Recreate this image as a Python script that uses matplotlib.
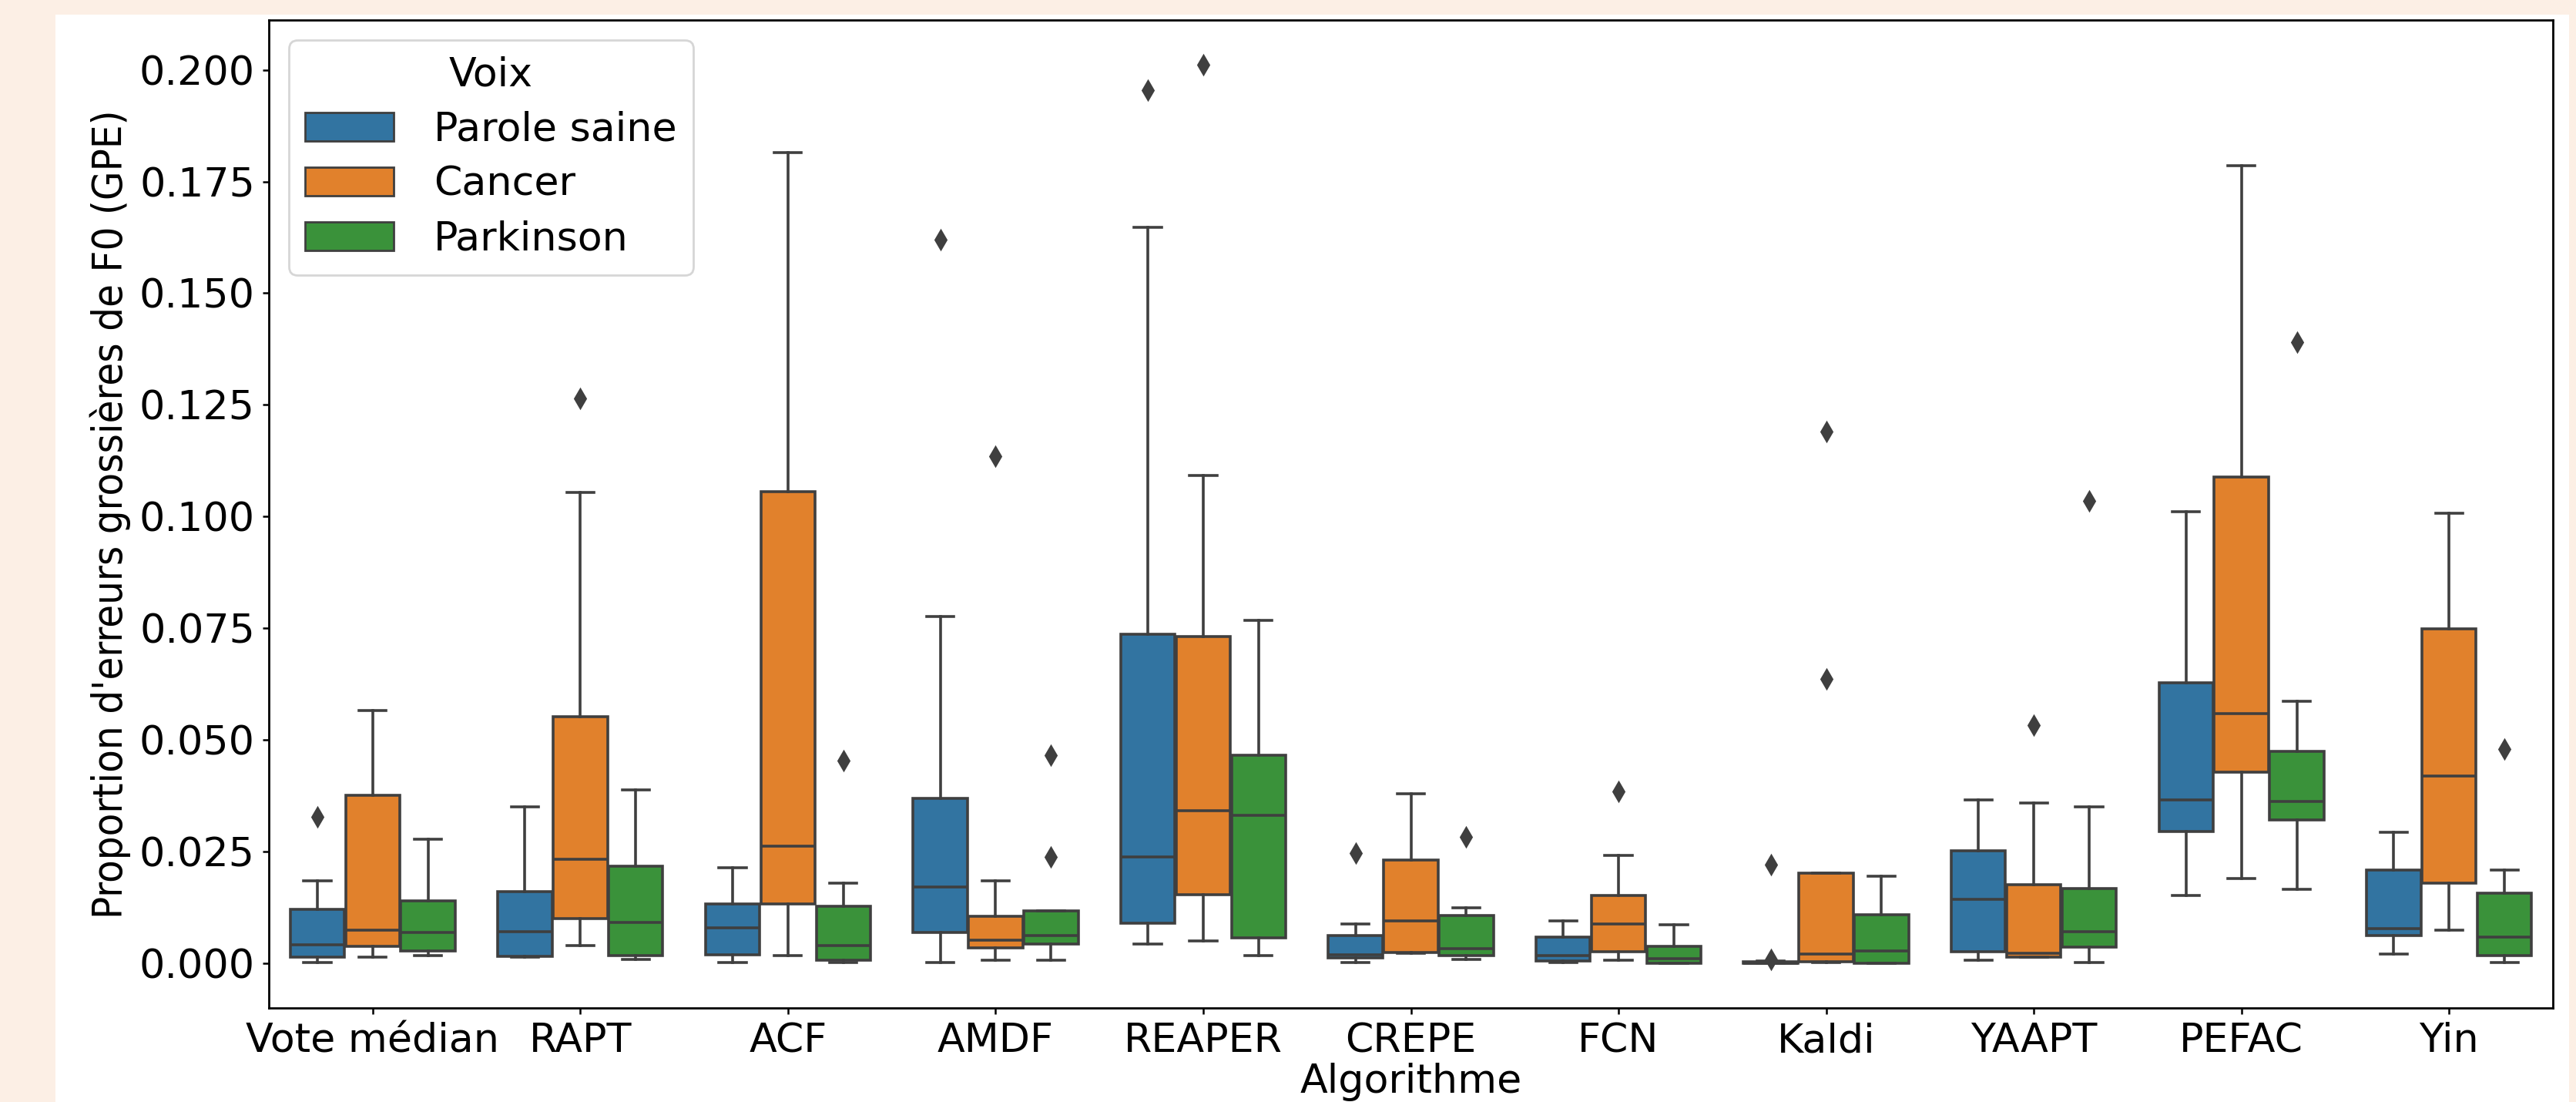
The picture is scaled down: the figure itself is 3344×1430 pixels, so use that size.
import matplotlib
matplotlib.use("Agg")
import matplotlib.pyplot as plt
from matplotlib.patches import Rectangle, Patch
from matplotlib import font_manager
from matplotlib.font_manager import FontProperties

# ---------------- data ----------------
algorithms = ["Vote médian", "RAPT", "ACF", "AMDF", "REAPER", "CREPE",
              "FCN", "Kaldi", "YAAPT", "PEFAC", "Yin"]
groups = ["Parole saine", "Cancer", "Parkinson"]

# Parole saine
saine_lo  = [0.0002, 0.0013, 0.0002, 0.0001, 0.0043, 0.0001, 0.0001, 0.0000, 0.0007, 0.0151, 0.0021]
saine_q1  = [0.0014, 0.0015, 0.0019, 0.0069, 0.0089, 0.0012, 0.0005, 0.0000, 0.0025, 0.0295, 0.0061]
saine_med = [0.0041, 0.0070, 0.0079, 0.0171, 0.0238, 0.0019, 0.0016, 0.0000, 0.0142, 0.0366, 0.0078]
saine_q3  = [0.0121, 0.0160, 0.0133, 0.0369, 0.0737, 0.0061, 0.0059, 0.0003, 0.0251, 0.0627, 0.0208]
saine_hi  = [0.0184, 0.0349, 0.0214, 0.0776, 0.1647, 0.0087, 0.0094, 0.0004, 0.0366, 0.1010, 0.0293]
saine_out = [[0.0327], [], [], [0.1619], [0.1954], [0.0246], [], [0.0220, 0.0009], [], [], []]

# Cancer
cancer_lo  = [0.0014, 0.0040, 0.0017, 0.0007, 0.0050, 0.0022, 0.0007, 0.0001, 0.0013, 0.0190, 0.0073]
cancer_q1  = [0.0037, 0.0099, 0.0133, 0.0034, 0.0153, 0.0023, 0.0025, 0.0003, 0.0014, 0.0427, 0.0179]
cancer_med = [0.0073, 0.0233, 0.0262, 0.0051, 0.0341, 0.0094, 0.0088, 0.0021, 0.0022, 0.0559, 0.0419]
cancer_q3  = [0.0376, 0.0551, 0.1056, 0.0105, 0.0731, 0.0230, 0.0151, 0.0202, 0.0175, 0.1089, 0.0748]
cancer_hi  = [0.0566, 0.1053, 0.1814, 0.0185, 0.1091, 0.0380, 0.0241, 0.0202, 0.0358, 0.1786, 0.1007]
cancer_out = [[], [0.1265], [], [0.1135], [0.2011], [], [0.0384], [0.1190, 0.0636], [0.0532], [], []]

# Parkinson
park_lo  = [0.0016, 0.0008, 0.0001, 0.0007, 0.0017, 0.0009, 0.0000, 0.0000, 0.0001, 0.0166, 0.0001]
park_q1  = [0.0027, 0.0016, 0.0007, 0.0043, 0.0056, 0.0016, 0.0000, 0.0000, 0.0036, 0.0320, 0.0016]
park_med = [0.0068, 0.0091, 0.0039, 0.0061, 0.0331, 0.0032, 0.0010, 0.0028, 0.0070, 0.0362, 0.0058]
park_q3  = [0.0140, 0.0217, 0.0127, 0.0117, 0.0466, 0.0106, 0.0037, 0.0109, 0.0167, 0.0474, 0.0156]
park_hi  = [0.0278, 0.0388, 0.0179, 0.0117, 0.0767, 0.0124, 0.0085, 0.0194, 0.0349, 0.0586, 0.0208]
park_out = [[], [], [0.0454], [0.0465, 0.0237], [], [0.0282], [], [], [0.1034], [0.1391], [0.0479]]

series = [
    (saine_lo, saine_q1, saine_med, saine_q3, saine_hi, saine_out),
    (cancer_lo, cancer_q1, cancer_med, cancer_q3, cancer_hi, cancer_out),
    (park_lo, park_q1, park_med, park_q3, park_hi, park_out),
]

colors = ["#3274a1", "#e1812c", "#3a923a"]
gray = "#3f3f3f"
peach = "#fcefe5"

# ---------------- figure ----------------
FS = 18.8
plt.rcParams["font.family"] = ["DejaVu Sans"]
plt.rcParams["font.size"] = FS

fig = plt.figure(figsize=(16.72, 7.15), dpi=200, facecolor=peach)
fig.patches.append(Rectangle((0.02153, 0.0), 0.99731 - 0.02153, 0.98671,
                             transform=fig.transFigure, facecolor="white",
                             edgecolor="none", zorder=-10))
ax = fig.add_axes([0.10437, 0.08531, 0.99103 - 0.10437, 0.98182 - 0.08531])
ax.set_facecolor("white")

group_w = 0.8
each_w = group_w / len(groups)
lw = 1.3

for j, (lo, q1, med, q3, hi, out) in enumerate(series):
    stats = []
    for i in range(len(algorithms)):
        stats.append(dict(whislo=lo[i], q1=q1[i], med=med[i], q3=q3[i],
                          whishi=hi[i], fliers=out[i]))
    positions = [i + (j - 1) * each_w for i in range(len(algorithms))]
    ax.bxp(stats, positions=positions, widths=each_w * 0.98, patch_artist=True,
           manage_ticks=False,
           boxprops=dict(facecolor=colors[j], edgecolor=gray, linewidth=lw),
           medianprops=dict(color=gray, linewidth=lw),
           whiskerprops=dict(color=gray, linewidth=lw),
           capprops=dict(color=gray, linewidth=lw),
           flierprops=dict(marker="d", markerfacecolor=gray, markeredgecolor=gray,
                           markersize=6, markeredgewidth=1.0, linestyle="none"))

ax.set_xlim(-0.5, len(algorithms) - 0.5)
ax.set_xticks(range(len(algorithms)))
ax.set_xticklabels(algorithms)
ax.tick_params(axis="both", labelsize=FS, length=3, width=0.9, color="black")
for s in ax.spines.values():
    s.set_linewidth(1.0)
    s.set_color("black")

ax.set_xlabel("Algorithme", fontsize=FS, labelpad=1)

# y label: condensed DejaVu if available
cond_path = font_manager.findfont(FontProperties(family="DejaVu Sans", stretch="condensed"))
if "Condensed" in cond_path:
    ax.set_ylabel("Proportion d'erreurs grossières de F0 (GPE)",
                  fontproperties=FontProperties(fname=cond_path, size=19.5))
else:
    ax.set_ylabel("Proportion d'erreurs grossières de F0 (GPE)", fontsize=17.3)

handles = [Patch(facecolor=c, edgecolor=gray, linewidth=1.0) for c in colors]
ax.legend(handles, groups, title="Voix", loc="upper left", fontsize=FS,
          title_fontsize=FS, handlelength=2.2, handletextpad=1.0,
          labelspacing=0.4)

fig.savefig("out.png", dpi=200, facecolor=peach)
